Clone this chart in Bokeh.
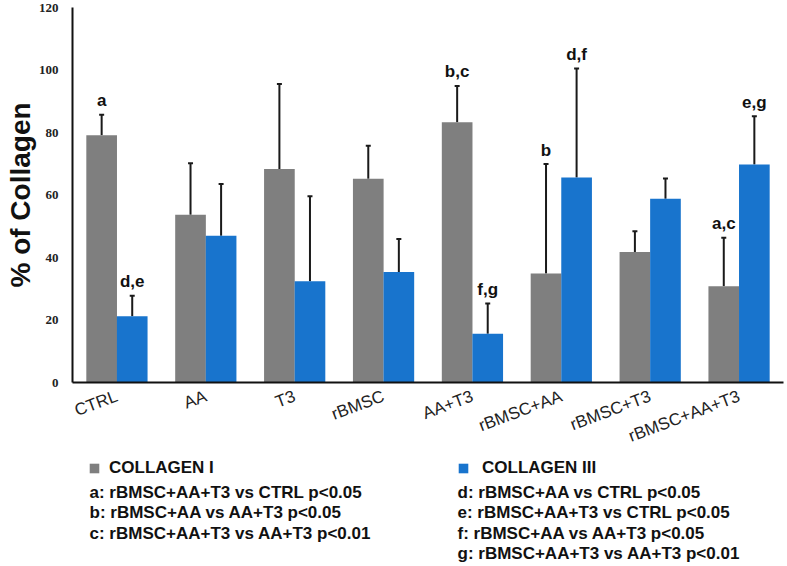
from bokeh.plotting import figure
from bokeh.layouts import column
from bokeh.models import (FactorRange, Range1d, Whisker, TeeHead, ColumnDataSource,
                          Legend, LegendItem, FixedTicker)
from bokeh.transform import dodge
from bokeh.core.properties import value
from bokeh.embed import file_html
from bokeh.resources import INLINE

# ---- data ----
groups = ["CTRL", "AA", "T3", "rBMSC", "AA+T3", "rBMSC+AA", "rBMSC+T3", "rBMSC+AA+T3"]
collagen1 = [79.1, 53.7, 68.3, 65.2, 83.3, 34.9, 41.8, 30.8]
collagen1_err = [6.6, 16.5, 27.2, 10.6, 11.6, 35.0, 6.6, 15.5]
collagen3 = [21.2, 47.0, 32.4, 35.4, 15.6, 65.6, 58.8, 69.8]
collagen3_err = [6.6, 16.5, 27.2, 10.5, 9.7, 34.9, 6.5, 15.4]
sig1 = ["a", "", "", "", "b,c", "b", "", "a,c"]
sig3 = ["d,e", "", "", "", "f,g", "d,f", "", "e,g"]
yticks = [0, 20, 40, 60, 80, 100, 120]
series_names = ["COLLAGEN I", "COLLAGEN III"]
notes1 = ["a: rBMSC+AA+T3 vs CTRL p<0.05",
          "b: rBMSC+AA vs AA+T3 p<0.05",
          "c: rBMSC+AA+T3 vs AA+T3 p<0.01"]
notes3 = ["d: rBMSC+AA vs CTRL p<0.05",
          "e: rBMSC+AA+T3 vs CTRL p<0.05",
          "f: rBMSC+AA vs AA+T3 p<0.05",
          "g: rBMSC+AA+T3 vs AA+T3 p<0.01"]

GRAY = "#7f7f7f"
BLUE = "#1874cd"
INK = "#111111"
SANS = "Liberation Sans"
W = 787
LEFT = 72
RIGHT = 4
H1 = 457
H2 = 109

src = ColumnDataSource(dict(
    g=groups,
    c1=collagen1, u1=[v + e for v, e in zip(collagen1, collagen1_err)], s1=sig1,
    c3=collagen3, u3=[v + e for v, e in zip(collagen3, collagen3_err)], s3=sig3,
))

# ---- main chart ----
p = figure(x_range=FactorRange(*groups), y_range=Range1d(0, 120),
           width=W, height=H1, output_backend="svg", toolbar_location=None,
           min_border_left=LEFT, min_border_right=RIGHT, min_border_top=7,
           min_border_bottom=H1 - 383)
p.outline_line_color = None
p.xgrid.grid_line_color = None
p.ygrid.grid_line_color = None

off = 0.172
w = 0.345
x1 = dodge("g", -off, range=p.x_range)
x3 = dodge("g", off, range=p.x_range)

r1 = p.vbar(x=x1, top="c1", width=w, source=src, fill_color=GRAY, line_color=None)
r3 = p.vbar(x=x3, top="c3", width=w, source=src, fill_color=BLUE, line_color=None)

for xx, lo, up in [(x1, "c1", "u1"), (x3, "c3", "u3")]:
    wh = Whisker(base=xx, lower=lo, upper=up, source=src, line_color="#1a1a1a", line_width=2,
                 upper_head=TeeHead(size=5, line_color="#1a1a1a", line_width=2), lower_head=None)
    p.add_layout(wh)

for xx, yy, tt in [(x1, "u1", "s1"), (x3, "u3", "s3")]:
    p.text(x=xx, y=yy, text=tt, source=src, text_align="center", text_baseline="alphabetic",
           y_offset=-14, text_font=value(SANS), text_font_style="bold", text_font_size="17px",
           text_color=INK)

ya = p.yaxis[0]
ya.ticker = FixedTicker(ticks=yticks)
ya.major_label_text_font = "Liberation Serif"
ya.major_label_text_font_style = "bold"
ya.major_label_text_font_size = "13px"
ya.major_label_text_color = "#222222"
ya.major_label_standoff = 8
ya.axis_line_width = 2
ya.axis_line_color = INK
ya.major_tick_line_color = None
ya.minor_tick_line_color = None
ya.axis_label = "% of Collagen"
ya.axis_label_text_font = SANS
ya.axis_label_text_font_style = "bold"
ya.axis_label_text_font_size = "28px"
ya.axis_label_text_color = INK
ya.axis_label_standoff = 0

xa = p.xaxis[0]
xa.major_label_orientation = 0.36
xa.major_label_text_font = SANS
xa.major_label_text_font_size = "17px"
xa.major_label_text_color = "#222222"
xa.major_label_standoff = 7
xa.axis_line_width = 2
xa.axis_line_color = INK
xa.major_tick_line_color = None
xa.minor_tick_line_color = None

# ---- legend / notes panel (x in page pixels) ----
q = figure(width=W, height=H2, x_range=Range1d(LEFT, W - RIGHT), y_range=Range1d(0, H2),
           output_backend="svg", toolbar_location=None,
           min_border_left=LEFT, min_border_right=RIGHT, min_border_top=0, min_border_bottom=0,
           x_axis_location=None, y_axis_location=None)
q.outline_line_color = None
q.xgrid.grid_line_color = None
q.ygrid.grid_line_color = None

d1 = q.vbar(x=[-1000], top=[0], width=1, fill_color=GRAY, line_color=None)
d3 = q.vbar(x=[-1000], top=[0], width=1, fill_color=BLUE, line_color=None)

for rend, name, loc, stand in [(d1, series_names[0], (16, 88), 9),
                               (d3, series_names[1], (385, 88), 13)]:
    leg = Legend(items=[LegendItem(label=name, renderers=[rend])], location=loc,
                 border_line_color=None, background_fill_alpha=0, padding=0, margin=0,
                 glyph_width=12, glyph_height=12, label_height=12, label_standoff=stand,
                 label_text_font=SANS, label_text_font_style="bold",
                 label_text_font_size="17px", label_text_color=INK)
    q.add_layout(leg)

row_top = 74.3
pitch = 20.4
for col_x, notes in [(89, notes1), (457, notes3)]:
    q.text(x=[col_x] * len(notes), y=[row_top - pitch * i for i in range(len(notes))],
           text=notes, text_align="left", text_baseline="middle",
           text_font=value(SANS), text_font_style="bold", text_font_size="17px",
           text_color=INK)

open("out.html", "w").write(file_html(column(p, q), INLINE))
